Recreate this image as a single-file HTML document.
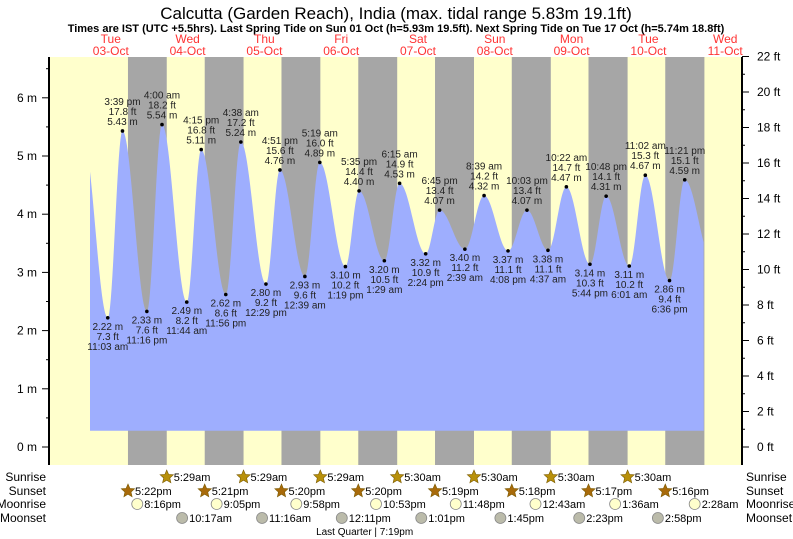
<!DOCTYPE html>
<html><head><meta charset="utf-8"><style>
html,body{margin:0;padding:0;background:#fff;}
svg{display:block;font-family:"Liberation Sans",sans-serif;}
</style></head><body>
<svg id="chart" width="793" height="539" viewBox="0 0 793 539" xmlns="http://www.w3.org/2000/svg">
<text x="396" y="19" text-anchor="middle" font-size="17">Calcutta (Garden Reach), India (max. tidal range 5.83m 19.1ft)</text>
<text x="396" y="32" text-anchor="middle" font-size="11" font-weight="bold">Times are IST (UTC +5.5hrs). Last Spring Tide on Sun 01 Oct (h=5.93m 19.5ft). Next Spring Tide on Tue 17 Oct (h=5.74m 18.8ft)</text>
<g id="bands"></g><g id="tide"></g><g id="axes"></g><g id="labels"></g><g id="astro"></g>
</svg>
<script>
const dayNames=["Tue","Wed","Thu","Fri","Sat","Sun","Mon","Tue","Wed"];
const dayDates=["03-Oct","04-Oct","05-Oct","06-Oct","07-Oct","08-Oct","09-Oct","10-Oct","11-Oct"];
// tide extremes: day index (0=03-Oct), time string, metres, feet, type
const tideDays=[0,0,0,1,1,1,1,2,2,2,3,3,3,3,4,4,4,4,5,5,5,5,6,6,6,6,7,7,7,7];
const tideTimes=["11:03 am","3:39 pm","11:16 pm","4:00 am","11:44 am","4:15 pm","11:56 pm","4:38 am","12:29 pm","4:51 pm","12:39 am","5:19 am","1:19 pm","5:35 pm","1:29 am","6:15 am","2:24 pm","6:45 pm","2:39 am","8:39 am","4:08 pm","10:03 pm","4:37 am","10:22 am","5:44 pm","10:48 pm","6:01 am","11:02 am","6:36 pm","11:21 pm"];
const tideMetres=[2.22,5.43,2.33,5.54,2.49,5.11,2.62,5.24,2.80,4.76,2.93,4.89,3.10,4.40,3.20,4.53,3.32,4.07,3.40,4.32,3.37,4.07,3.38,4.47,3.14,4.31,3.11,4.67,2.86,4.59];
const tideFeet=["7.3","17.8","7.6","18.2","8.2","16.8","8.6","17.2","9.2","15.6","9.6","16.0","10.2","14.4","10.5","14.9","10.9","13.4","11.2","14.2","11.1","13.4","11.1","14.7","10.3","14.1","10.2","15.3","9.4","15.1"];
const sunriseDays=[1,2,3,4,5,6,7];
const sunriseTimes=["5:29am","5:29am","5:29am","5:30am","5:30am","5:30am","5:30am"];
const sunsetDays=[0,1,2,3,4,5,6,7];
const sunsetTimes=["5:22pm","5:21pm","5:20pm","5:20pm","5:19pm","5:18pm","5:17pm","5:16pm"];
const moonriseDays=[0,1,2,3,4,6,7,8];
const moonriseTimes=["8:16pm","9:05pm","9:58pm","10:53pm","11:48pm","12:43am","1:36am","2:28am"];
const moonsetDays=[1,2,3,4,5,6,7];
const moonsetTimes=["10:17am","11:16am","12:11pm","1:01pm","1:45pm","2:23pm","2:58pm"];
const mTicks=[0,1,2,3,4,5,6];
const ftTicks=[0,2,4,6,8,10,12,14,16,18,20,22];

const NS="http://www.w3.org/2000/svg";
const PL=49,PR=742,PT=57,PB=465,Y0=447,PXM=58.2,PXF=17.75;
const X0=72.4,PXH=3.2;
const xT=t=>X0+PXH*t;
const yM=m=>Y0-m*PXM;
const yF=f=>Y0-f*PXF;
function hrs(s){const m=s.match(/(\d+):(\d+)\s*(am|pm)/);let h=+m[1]%12;if(m[3]=="pm")h+=12;return h+(+m[2])/60;}
function el(tag,attrs,parent,txt){const e=document.createElementNS(NS,tag);for(const k in attrs)e.setAttribute(k,attrs[k]);if(txt!==undefined)e.textContent=txt;parent.appendChild(e);return e;}
const bands=document.getElementById('bands'),tide=document.getElementById('tide'),axes=document.getElementById('axes'),labels=document.getElementById('labels'),astro=document.getElementById('astro');

// daylight background
let bg=el('rect',{x:PL,y:PT,width:PR-PL,height:PB-PT,fill:'#ffffcc'},bands);


for(let i=0;i<sunsetDays.length;i++){
  const ts=sunsetDays[i]*24+hrs(sunsetTimes[i]);
  const rIdx=i<sunriseTimes.length?i:sunriseTimes.length-1;
  const tr=(sunsetDays[i]+1)*24+hrs(sunriseTimes[rIdx]);
  const r=el('rect',{x:xT(ts),y:PT,width:xT(tr)-xT(ts),height:PB-PT,fill:'#a6a6a6'},bands);
  
  
}
// day headers
for(let d=0;d<dayNames.length;d++){
  const x=xT(d*24+12);
  const a=el('text',{x:x,y:43,'text-anchor':'middle','font-size':12,fill:'#ff3333'},labels,dayNames[d]);
  
  
  const b=el('text',{x:x,y:55,'text-anchor':'middle','font-size':12,fill:'#ff3333'},labels,dayDates[d]);
  
  
}
// tide curve
const ex=tideTimes.map((s,i)=>({t:tideDays[i]*24+hrs(s),h:tideMetres[i]}));
const pts=[{t:3.2,h:5.35}].concat(ex).concat([{t:200,h:3.2}]);
const tStart=5.5,tEnd=197.3,base=0.28;
let dstr=`M${xT(tStart)},${yM(base)}`;
for(let t=tStart;t<=tEnd+1e-6;t+=0.25){
  let k=0;while(k<pts.length-2&&pts[k+1].t<t)k++;
  const a=pts[k],b=pts[k+1];const f=(t-a.t)/(b.t-a.t);
  const h=b.h+(a.h-b.h)*(1+Math.cos(Math.PI*f))/2;
  dstr+=` L${xT(t).toFixed(1)},${yM(h).toFixed(1)}`;
}
dstr+=` L${xT(tEnd)},${yM(base)} Z`;
const area=el('path',{d:dstr,fill:'#9eaefe'},tide);


// extreme labels
tideTimes.forEach((s,i)=>{
  const x=xT(ex[i].t),y=yM(ex[i].h);const hi=i%2==1;
  const dot=el('circle',{cx:x,cy:y,r:1.8,fill:'#000'},labels);
  
  
  const lines=hi?[s,tideFeet[i]+' ft',tideMetres[i].toFixed(2)+' m']:[tideMetres[i].toFixed(2)+' m',tideFeet[i]+' ft',s];
  const y0=hi?y-26:y+12;
  lines.forEach((ln,j)=>{
    const t=el('text',{x:x,y:y0+j*10,'text-anchor':'middle','font-size':10,fill:'#222'},labels,ln);
    
    
  });
});
// axes
const la=el('line',{x1:PL,y1:PT,x2:PL,y2:PB,stroke:'#000','stroke-width':2},axes);


const ra=el('line',{x1:PR,y1:PT,x2:PR,y2:PB,stroke:'#000','stroke-width':2},axes);


for(let m=0;m<=6.5;m+=0.5){
  const y=yM(m);const major=Number.isInteger(m);
  el('line',{x1:PL-(major?7:3),y1:y,x2:PL,y2:y,stroke:'#000'},axes);
}
mTicks.forEach(m=>{
  const t=el('text',{x:PL-12,y:yM(m)+4,'text-anchor':'end','font-size':12,fill:'#000'},axes,m+' m');
  
  
});
for(let f=0;f<=22;f++){
  const y=yF(f);el('line',{x1:PR,y1:y,x2:PR+(f%2==0?7:3),y2:y,stroke:'#000'},axes);
}
ftTicks.forEach(f=>{
  const t=el('text',{x:PR+15,y:yF(f)+4,'font-size':12,fill:'#000'},axes,f+' ft');
  
  
});
// astro rows
const rowY={sunrise:477,sunset:491,moonrise:504,moonset:518};
[["Sunrise",477],["Sunset",491],["Moonrise",504],["Moonset",518]].forEach(r=>{
  const a=el('text',{x:46,y:r[1]+4,'text-anchor':'end','font-size':12,fill:'#000'},astro,r[0]);
  
  
  const b=el('text',{x:746,y:r[1]+4,'font-size':12,fill:'#000'},astro,r[0]);
  
  
});
function star(cx,cy,fill,name){
  let p=[];for(let k=0;k<10;k++){const r=k%2?3.2:7;const a=-Math.PI/2+k*Math.PI/5;p.push((cx+r*Math.cos(a)).toFixed(1)+','+(cy+r*Math.sin(a)).toFixed(1));}
  const s=el('polygon',{points:p.join(' '),fill:fill,stroke:'#7a5a00','stroke-width':0.6},astro);
  
  
}
function evRow(days,times,y,kind){
  days.forEach((d,i)=>{
    const x=xT(d*24+hrs(times[i]));
    if(kind=='sunrise')star(x,y,'#b8900a','sunrise-icon');
    else if(kind=='sunset')star(x,y,'#a86a0a','sunset-icon');
    else{const c=el('circle',{cx:x,cy:y,r:5.5,fill:kind=='moonrise'?'#ffffcc':'#bbbbaa',stroke:'#888','stroke-width':0.8},astro);
      
      }
    const t=el('text',{x:x+7,y:y+4,'font-size':11,fill:'#000'},astro,times[i]);
    
    
  });
}
evRow(sunriseDays,sunriseTimes,rowY.sunrise,'sunrise');
evRow(sunsetDays,sunsetTimes,rowY.sunset,'sunset');
evRow(moonriseDays,moonriseTimes,rowY.moonrise,'moonrise');
evRow(moonsetDays,moonsetTimes,rowY.moonset,'moonset');
const lq=el('text',{x:xT(3*24+19.32),y:535,'text-anchor':'middle','font-size':10,fill:'#000'},astro,'Last Quarter | 7:19pm');


</script>
</body></html>
